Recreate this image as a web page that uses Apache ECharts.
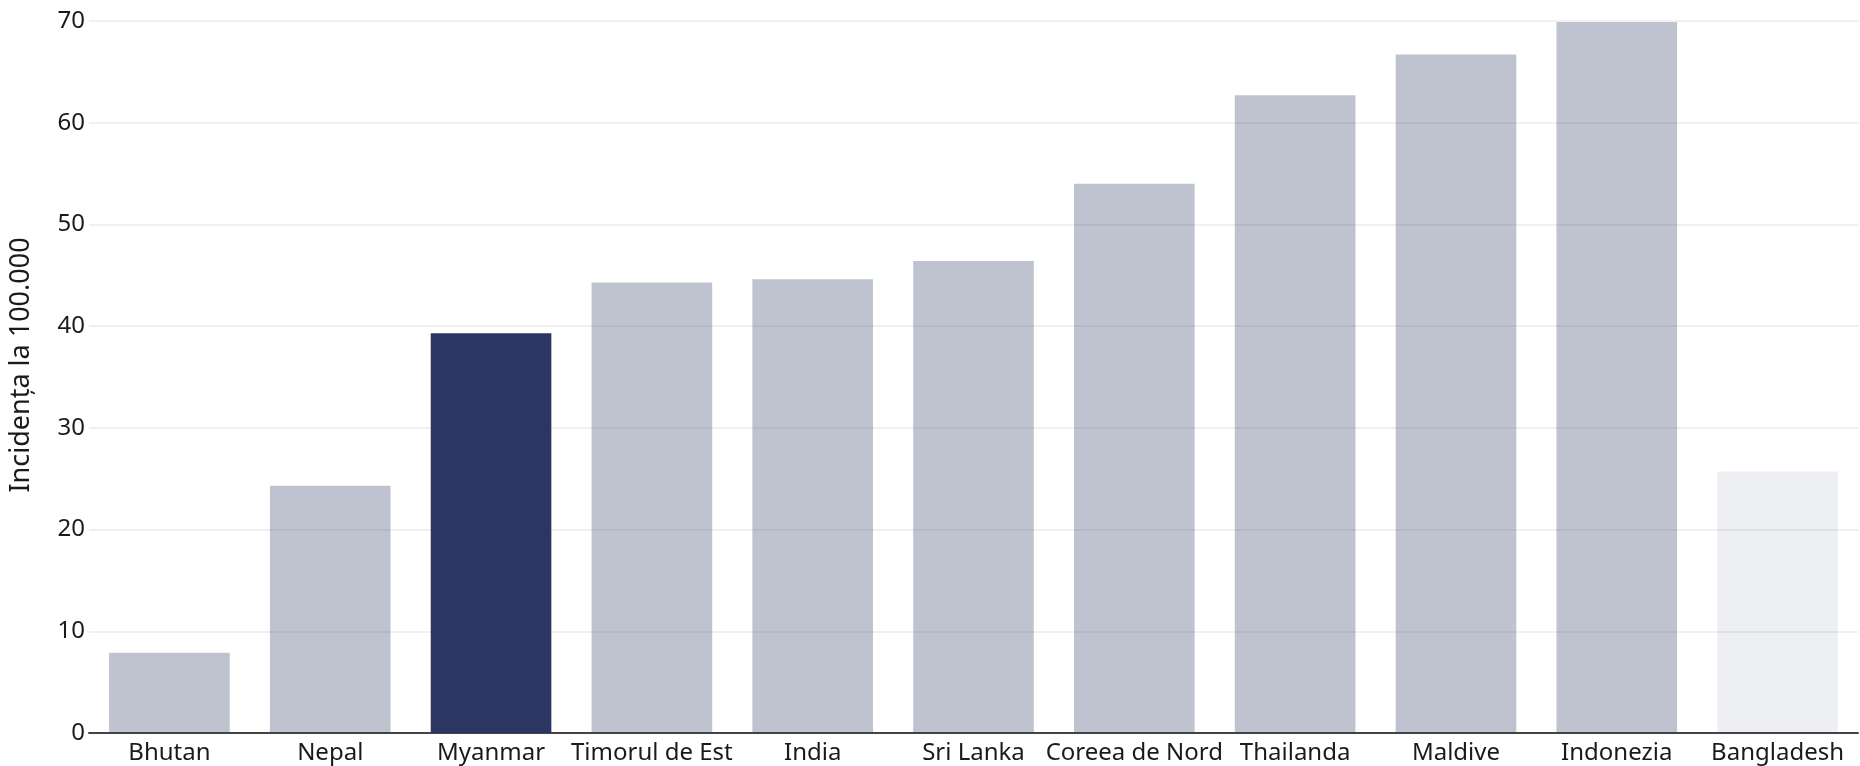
<!DOCTYPE html>
<html>
<head>
<meta charset="utf-8">
<title>Incidența la 100.000</title>
<script src="https://cdn.jsdelivr.net/npm/echarts@6/dist/echarts.min.js"></script>
<style>
  html, body { margin: 0; padding: 0; background: #fff; }
  #chart { width: 1860px; height: 766px; }
</style>
</head>
<body>
<div id="chart"></div>
<script>
// date
var countries = ['Bhutan', 'Nepal', 'Myanmar', 'Timorul de Est', 'India', 'Sri Lanka',
                 'Coreea de Nord', 'Thailanda', 'Maldive', 'Indonezia', 'Bangladesh'];
var incidence = [7.9, 24.3, 39.3, 44.3, 44.6, 46.4, 54.0, 62.7, 66.7, 69.9, 25.7];
var highlight = 'Myanmar';      // bara evidentiata
var faded = 'Bangladesh';       // bara foarte deschisa
var yTicks = [0, 10, 20, 30, 40, 50, 60, 70];

var navy = '#2b3762';
var font = 'Noto Sans';

function barOpacity(name) {
	if (name === highlight) return 1;
	if (name === faded) return 0.08;
	return 0.3;
}

var chart = echarts.init(document.getElementById('chart'));

var option = {
	animation: false,
	grid: {
		left: 89,
		right: 2,
		top: 21,
		bottom: 33
	},
	xAxis: {
		type: 'category',
		data: countries,
		axisTick: { show: false },
		axisLine: { lineStyle: { color: '#444', width: 2 } },
		axisLabel: {
			color: '#1a1a1a',
			fontFamily: font,
			fontSize: 24,
			margin: 8,
			interval: 0
		}
	},
	yAxis: {
		type: 'value',
		min: yTicks[0],
		max: yTicks[yTicks.length - 1],
		interval: 10,
		name: 'Incidența la 100.000',
		nameLocation: 'middle',
		nameGap: 54,
		nameTextStyle: {
			color: '#1a1a1a',
			fontFamily: font,
			fontSize: 27,
			padding: [0, 0, 0, 24]
		},
		axisLine: { show: false },
		axisTick: { show: false },
		axisLabel: {
			color: '#1a1a1a',
			fontFamily: font,
			fontSize: 24,
			margin: 4
		},
		splitLine: { lineStyle: { color: '#ebebeb', width: 1.5 } }
	},
	series: [{
		type: 'bar',
		barCategoryGap: '25%',
		data: countries.map(function (c, i) {
			return {
				value: incidence[i],
				itemStyle: { color: navy, opacity: barOpacity(c) }
			};
		})
	}]
};

chart.setOption(option);
</script>
</body>
</html>
